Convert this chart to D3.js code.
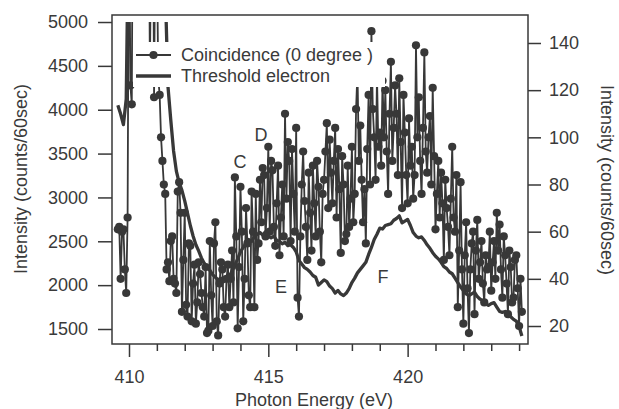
<!DOCTYPE html>
<html>
<head>
<meta charset="utf-8">
<script src="https://cdn.jsdelivr.net/npm/d3@7"></script>
<style>
  html, body { margin: 0; padding: 0; background: #fff; }
  svg { display: block; }
  text { font-family: "Liberation Sans", Arial, Helvetica, sans-serif; }
</style>
</head>
<body>
<svg id="chart" width="619" height="409"></svg>
<script>
// Energy grids (eV): first point and step of each scan
const coinStart = 409.6, coinStep = 0.05;
const thrStart = 409.6, thrStep = 0.1;

// Coincidence (0 degree) counts per 60 s, right axis (one row per eV)
const coincidence = [
  61, 62, 40, 60, 61, 44, 34, 66,
  210, 122, 114, 240, 230, 250, 260, 270, 280, 280, 270, 260, 250, 240, 230, 128, 190, 230, 117, 200,
  180, 125, 118, 100, 90, 80, 76, 44, 47, 39, 56, 58, 40, 38, 34, 77, 81, 68, 26, 48,
  68, 29, 24, 55, 54, 22, 38, 46, 21, 30, 47, 42, 34, 28, 24, 45, 17, 18, 56, 33,
  20, 55, 64, 22, 16, 38, 47, 44, 28, 24, 40, 46, 28, 40, 52, 30, 83, 58, 19, 45,
  79, 60, 22, 40, 70, 55, 33, 28, 77, 60, 28, 76, 48, 55, 82, 64, 87, 84, 58, 70,
  96, 60, 90, 86, 62, 54, 72, 88, 50, 66, 80, 58, 110, 74, 98, 90, 56, 95, 76, 60,
  104, 32, 24, 58, 80, 94, 73, 62, 48, 85, 68, 52, 88, 72, 58, 90, 79, 60, 47, 76,
  82, 94, 106, 70, 99, 85, 72, 90, 104, 66, 95, 78, 51, 92, 80, 56, 59, 88, 62, 74,
  96, 64, 76, 112, 128, 90, 105, 82, 64, 78, 55, 95, 118, 80, 145, 112, 100, 82, 126, 96,
  102, 88, 124, 100, 120, 94, 76, 110, 132, 90, 104, 122, 110, 84, 125, 98, 70, 118, 102, 84,
  72, 108, 88, 96, 74, 84, 139, 100, 117, 90, 76, 104, 136, 94, 85, 100, 109, 80, 121, 92,
  61, 76, 90, 66, 85, 72, 48, 82, 70, 62, 50, 74, 96, 66, 60, 84, 28, 52, 81, 44,
  21, 50, 64, 36, 17, 44, 55, 60, 25, 52, 65, 40, 47, 56, 38, 30, 50, 44, 45, 60,
  35, 47, 56, 40, 68, 52, 63, 44, 32, 58, 50, 38, 25, 52, 45, 30, 32, 48, 50, 36,
  20, 40, 26
];

// Threshold electron counts per 60 s, left axis
const threshold = [
  4050, 3950, 3830, 4120,
  6500, 9000, 11000, 12000, 12500, 12000, 11000, 10000, 9000, 8000,
  7200, 6500, 5900, 5400, 4260, 3880, 3530, 3300, 3170, 3080,
  2960, 2820, 2680, 2560, 2460, 2390, 2310, 2250, 2200, 2170,
  2120, 2090, 2060, 2080, 2040, 2070, 2100, 2160, 2230, 2300,
  2380, 2430, 2480, 2520, 2500, 2550, 2580, 2600, 2570, 2610,
  2560, 2540, 2560, 2510, 2500, 2470, 2490, 2450, 2460, 2430,
  2380, 2280, 2240, 2200, 2180, 2150, 2110, 2090, 2000, 2030,
  2060, 2040, 1990, 1960, 1910, 1940, 1900, 1880, 1910, 1960,
  2030, 2080, 2140, 2180, 2220, 2260, 2350, 2430, 2520, 2580,
  2650, 2640, 2680, 2690, 2700, 2740, 2760, 2790, 2710, 2730,
  2750, 2680, 2600, 2560, 2540, 2550, 2510, 2460, 2420, 2370,
  2330, 2300, 2260, 2210, 2190, 2150, 2130, 2080, 2030, 1980,
  1940, 1900, 1880, 1900, 1920, 1870, 1840, 1820, 1790, 1770,
  1790, 1800, 1750, 1700, 1690, 1700, 1680, 1640, 1610, 1590,
  1530, 1420
];

// Axis ticks
const leftTicks = [1500, 2000, 2500, 3000, 3500, 4000, 4500, 5000];
const rightTicks = [20, 40, 60, 80, 100, 120, 140];
const xMajorTicks = [410, 415, 420];
const xMinorTicks = [411, 412, 413, 414, 416, 417, 418, 419, 421, 422, 423, 424];

// Feature labels (energy in eV, height in left-axis counts)
const featureLabels = ["C", "D", "E", "F"];
const featureEnergy = [413.98, 414.74, 415.46, 419.12];
const featureLevel = [3404, 3712, 1990, 2093];

const seriesNames = ["Coincidence (0 degree )", "Threshold electron"];

const ink = "#383838";
const textInk = "#3a3a3a";

const svg = d3.select("#chart");

const plot = { left: 112, right: 528, top: 15, bottom: 344, clipTop: 22 };

const x = d3.scaleLinear().domain([409.39, 424.32]).range([plot.left, plot.right]);
const yL = d3.scaleLinear().domain([1329, 5080]).range([plot.bottom, plot.top]);
const yR = d3.scaleLinear().domain([12.37, 151.87]).range([plot.bottom, plot.top]);

const coinData = coincidence.map((v, i) => ({ e: coinStart + i * coinStep, v }));
const thrData = threshold.map((v, i) => ({ e: thrStart + i * thrStep, v }));

svg.append("defs").append("clipPath").attr("id", "plotClip")
  .append("rect")
  .attr("x", plot.left).attr("y", plot.clipTop)
  .attr("width", plot.right - plot.left)
  .attr("height", plot.bottom - plot.clipTop);

const dataLayer = svg.append("g").attr("clip-path", "url(#plotClip)");

// Coincidence trace with round markers
dataLayer.append("path")
  .datum(coinData)
  .attr("fill", "none")
  .attr("stroke", ink)
  .attr("stroke-width", 1.8)
  .attr("stroke-linejoin", "round")
  .attr("d", d3.line().x(d => x(d.e)).y(d => yR(d.v)));

dataLayer.append("g").selectAll("circle")
  .data(coinData)
  .join("circle")
  .attr("cx", d => x(d.e))
  .attr("cy", d => yR(d.v))
  .attr("r", 4.1)
  .attr("fill", ink);

// Threshold electron trace (thick line)
dataLayer.append("path")
  .datum(thrData)
  .attr("fill", "none")
  .attr("stroke", ink)
  .attr("stroke-width", 3.3)
  .attr("stroke-linejoin", "round")
  .attr("d", d3.line().x(d => x(d.e)).y(d => yL(d.v)));

// Feature letters
svg.append("g").selectAll("text")
  .data(featureLabels)
  .join("text")
  .attr("x", (d, i) => x(featureEnergy[i]))
  .attr("y", (d, i) => yL(featureLevel[i]))
  .attr("dy", "0.36em")
  .attr("text-anchor", "middle")
  .attr("font-size", 18)
  .attr("fill", textInk)
  .text(d => d);

// Legend (opaque box)
const legend = svg.append("g");
legend.append("rect")
  .attr("x", 133).attr("y", 42).attr("width", 252).attr("height", 45)
  .attr("fill", "#fff");
legend.append("line")
  .attr("x1", 136).attr("x2", 171).attr("y1", 55).attr("y2", 55)
  .attr("stroke", ink).attr("stroke-width", 1.8);
legend.append("circle")
  .attr("cx", 153.5).attr("cy", 55).attr("r", 4.1).attr("fill", ink);
legend.append("line")
  .attr("x1", 136).attr("x2", 171).attr("y1", 76).attr("y2", 76)
  .attr("stroke", ink).attr("stroke-width", 3.3);
legend.selectAll("text.lg")
  .data(seriesNames)
  .join("text")
  .attr("class", "lg")
  .attr("x", 181)
  .attr("y", (d, i) => 55 + i * 21)
  .attr("dy", "0.36em")
  .attr("font-size", 18)
  .attr("fill", textInk)
  .text(d => d);

// Axes
function styleAxis(g) {
  g.select(".domain").remove();
  g.selectAll(".tick line").attr("stroke", ink).attr("stroke-width", 1.5);
  g.selectAll(".tick text")
    .attr("fill", textInk)
    .attr("font-size", 18)
    .attr("font-family", "Liberation Sans, Arial, sans-serif");
}

svg.append("g")
  .attr("transform", `translate(${plot.left},0)`)
  .call(d3.axisLeft(yL).tickValues(leftTicks).tickSize(14).tickPadding(10).tickFormat(d3.format("d")))
  .call(styleAxis);

svg.append("g")
  .attr("transform", `translate(${plot.right},0)`)
  .call(d3.axisRight(yR).tickValues(rightTicks).tickSize(13).tickPadding(8).tickFormat(d3.format("d")))
  .call(styleAxis);

svg.append("g")
  .attr("transform", `translate(0,${plot.bottom})`)
  .call(d3.axisBottom(x).tickValues(xMajorTicks).tickSize(13).tickPadding(13).tickFormat(d3.format("d")))
  .call(styleAxis);

svg.append("g")
  .attr("transform", `translate(0,${plot.bottom})`)
  .call(d3.axisBottom(x).tickValues(xMinorTicks).tickSize(7).tickFormat(""))
  .call(styleAxis);

// Plot frame
svg.append("rect")
  .attr("x", plot.left).attr("y", plot.top)
  .attr("width", plot.right - plot.left).attr("height", plot.bottom - plot.top)
  .attr("fill", "none").attr("stroke", ink).attr("stroke-width", 1.5);

// Axis titles
svg.append("text")
  .attr("transform", "translate(27,179) rotate(-90)")
  .attr("text-anchor", "middle")
  .attr("font-size", 18)
  .attr("fill", textInk)
  .text("Intensity (counts/60sec)");

svg.append("text")
  .attr("transform", "translate(601,180) rotate(90)")
  .attr("text-anchor", "middle")
  .attr("font-size", 18)
  .attr("fill", textInk)
  .text("Intensity (counts/60sec)");

svg.append("text")
  .attr("x", 314).attr("y", 406)
  .attr("text-anchor", "middle")
  .attr("font-size", 18)
  .attr("fill", textInk)
  .text("Photon Energy (eV)");
</script>
</body>
</html>
